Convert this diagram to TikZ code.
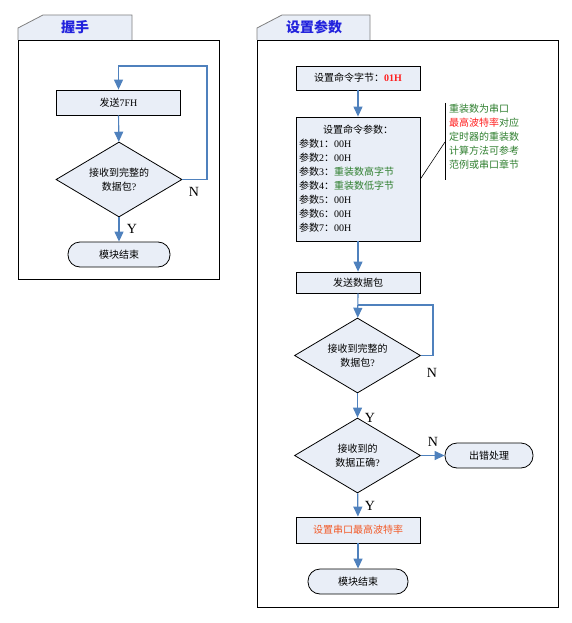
\documentclass[tikz,border=0pt]{standalone}
\usepackage{fontspec}
\setmainfont{Liberation Serif}
\newfontfamily\cjk{Noto Sans CJK SC}
\usetikzlibrary{shapes.geometric,arrows.meta,positioning}

\definecolor{boxbg}{HTML}{E9EEF7}
\definecolor{flowc}{HTML}{4F81BD}
\definecolor{tabgray}{HTML}{808080}
\definecolor{titleblue}{HTML}{2222DD}
\definecolor{notegreen}{HTML}{2F7F2F}
\definecolor{hotred}{HTML}{FF1E1E}
\definecolor{warmred}{HTML}{F25A28}

\newcommand{\zh}[1]{{\cjk #1}}

\begin{document}
\begin{tikzpicture}[x=1pt, y=-1pt, font=\fontsize{10}{14}\selectfont,
  box/.style = {draw, line width=0.8pt, fill=boxbg, minimum width=124pt, inner sep=2pt},
  ask/.style = {draw, line width=0.8pt, diamond, fill=boxbg, aspect=1.68, minimum width=126pt, minimum height=75pt, inner sep=0pt, align=center},
  term/.style = {draw, line width=0.8pt, fill=boxbg, rounded corners=12pt, minimum width=102pt, minimum height=25pt},
  flow/.style = {draw=flowc, line width=1.2pt, -{Triangle[length=10pt,width=9pt]}},
  loopline/.style = {draw=flowc, line width=1.2pt},
  yn/.style = {font=\fontsize{14}{14}\selectfont},
  tab/.style = {draw=tabgray, line width=0.8pt, fill=boxbg},
  frame/.style = {draw, line width=0.9pt},
  title/.style = {text=titleblue, font=\fontsize{14}{14}\selectfont\cjk\bfseries}]
\useasboundingbox (0,0) rectangle (572,623);

% frames and tabs
\draw[frame] (18,40) rectangle (219,279);
\draw[frame] (257,40) rectangle (558,607);
\draw[tab] (18,40) -- (18,28) -- (43,15) -- (132,15) -- (132,40);
\draw[tab] (257,40) -- (257,28) -- (282,15) -- (370,15) -- (370,40);
\node[title] (hstitle) at (75,27) {握手};
\node[title] (sptitle) at (314,27) {设置参数};

% handshake
\node[box, minimum height=25pt] (send1) at (118.5,102.5) {\zh{发送}7FH};
\node[ask] (ask1) at (119,179.5) {\zh{接收到完整的}\\\zh{数据包}?};
\node[term] (end1) at (119,254.5) {\zh{模块结束}};
\coordinate (hsloop) at (207,66);

\draw[flow] (send1) -- (ask1);
\draw[flow] (ask1) -- (end1);
\draw[flow] (ask1.east) -| (hsloop) -| (send1.north);
\node[yn] (hsn) at (194,192) {N};
\node[yn] (hsy) at (132,229) {Y};

% set parameters
\node[box, minimum height=24pt] (cmd) at (358,78) {\zh{设置命令字节：}\textcolor{hotred}{\bfseries 01H}};
\node[box, minimum height=124pt, text width=118pt, align=left, inner sep=3pt] (cmdpar) at (358,179) {%
  \makebox[118pt]{\zh{设置命令参数：}}\\
  \zh{参数}1\zh{：}00H\\
  \zh{参数}2\zh{：}00H\\
  \zh{参数}3\zh{：}\textcolor{notegreen}{\zh{重装数高字节}}\\
  \zh{参数}4\zh{：}\textcolor{notegreen}{\zh{重装数低字节}}\\
  \zh{参数}5\zh{：}00H\\
  \zh{参数}6\zh{：}00H\\
  \zh{参数}7\zh{：}00H};
\node[box, minimum height=21pt] (send2) at (358,282.5) {\zh{发送数据包}};
\node[ask] (ask2) at (357.5,355.5) {\zh{接收到完整的}\\\zh{数据包}?};
\node[ask] (ask3) at (357.5,455.5) {\zh{接收到的}\\\zh{数据正确}?};
\node[term, minimum width=88pt] (err) at (489,455.5) {\zh{出错处理}};
\node[box, minimum height=26pt, text=warmred] (baud) at (358,530) {\zh{设置串口最高波特率}};
\node[term, minimum width=100pt] (end2) at (358,581.5) {\zh{模块结束}};
\coordinate (sploop) at (433,305);

\draw[flow] (cmd) -- (cmdpar);
\draw[flow] (cmdpar) -- (send2);
\draw[flow] (send2) -- (ask2);
\draw[loopline] (ask2.east) -| (sploop) -- (sploop -| ask2.north);
\draw[flow] (ask2) -- (ask3);
\draw[flow] (ask3.east) -- (err.west);
\draw[flow] (ask3) -- (baud);
\draw[flow] (baud) -- (end2);
\node[yn] (spn1) at (432,373) {N};
\node[yn] (spy1) at (370,418) {Y};
\node[yn] (spn2) at (433,442) {N};
\node[yn] (spy2) at (370,506) {Y};

% note on the reload value
\coordinate (notetop) at (445,103);
\coordinate (notebot) at (445,180);
\coordinate (notept) at (445,142);
\draw[line width=0.8pt] (notetop) -- (notebot);
\draw[line width=0.6pt] (cmdpar.east) -- (notept);
\node[anchor=north west, inner sep=0pt, align=left, text=notegreen, font=\fontsize{10}{14}\selectfont\cjk] (note) at (449,104) {%
  重装数为串口\\
  \textcolor{hotred}{最高波特率}对应\\
  定时器的重装数\\
  计算方法可参考\\
  范例或串口章节};
\end{tikzpicture}
\end{document}
